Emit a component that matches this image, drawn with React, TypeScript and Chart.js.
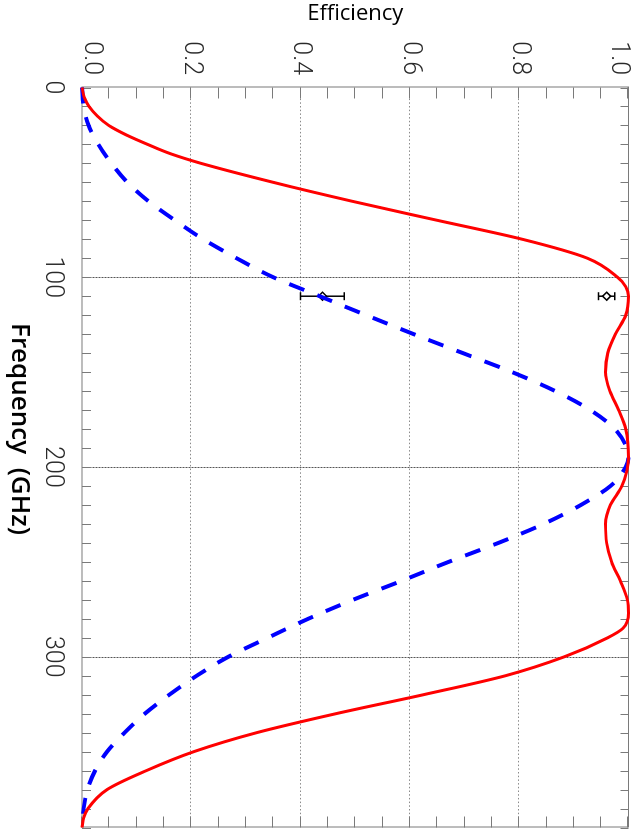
import React, { useEffect, useRef } from "react";
import { Chart, registerables } from "chart.js";

Chart.register(...registerables);

// ---- data ----
const redFreq = [0, 5, 10, 15, 20, 25, 30, 35, 40, 50, 60, 70, 80, 90, 100, 105, 110, 120, 130, 140, 150, 160, 170, 180, 195, 210, 220, 230, 240, 250, 260, 270, 277, 285, 290, 300, 310, 320, 330, 340, 350, 360, 370, 380, 385, 390];
const redEff = [0, 0.004, 0.013, 0.028, 0.049, 0.081, 0.12, 0.163, 0.218, 0.35, 0.495, 0.65, 0.806, 0.925, 0.98, 0.995, 1.0, 0.995, 0.976, 0.962, 0.958, 0.966, 0.982, 0.995, 1.0, 0.988, 0.967, 0.958, 0.96, 0.969, 0.985, 0.998, 1.0, 0.99, 0.962, 0.883, 0.775, 0.625, 0.465, 0.32, 0.205, 0.118, 0.046, 0.011, 0.003, 0];

const blueFreq = [0, 10, 20, 30, 40, 50, 60, 70, 80, 90, 100, 110, 120, 130, 140, 150, 160, 170, 180, 190, 195, 200, 210, 220, 230, 240, 250, 260, 270, 280, 290, 300, 310, 320, 330, 340, 350, 360, 370, 380, 390];
const blueEff = [0, 0.003, 0.012, 0.03, 0.054, 0.083, 0.122, 0.17, 0.222, 0.283, 0.35, 0.435, 0.52, 0.607, 0.697, 0.787, 0.866, 0.93, 0.975, 0.997, 1.0, 0.995, 0.967, 0.913, 0.845, 0.762, 0.671, 0.585, 0.496, 0.414, 0.34, 0.268, 0.21, 0.16, 0.115, 0.078, 0.046, 0.024, 0.01, 0.003, 0];

const measFreq = [110, 110];
const measEff = [0.96, 0.44];
const measErr = [0.015, 0.04];

const freqTickLabels = [0, 100, 200, 300];
const effTickLabels = [0, 0.2, 0.4, 0.6, 0.8, 1.0];
const freqGrid = [100, 200, 300];
const effGrid = [0.2, 0.4, 0.6, 0.8];
const FREQ_MIN = 0;
const FREQ_MAX = 390;
const EFF_MIN = 0;
const EFF_MAX = 1;
const freqMinorStep = 10;
const effMinorStep = 0.05;

const X_TITLE = "Frequency  (GHz)";
const Y_TITLE = "Efficiency";

const W = 833;
const H = 634;

const framePlugin = {
  id: "frame",
  beforeDatasetsDraw(chart: any) {
    const { ctx, chartArea: a, scales } = chart;
    const x = scales.x;
    const y = scales.y;
    ctx.save();
    ctx.lineWidth = 1;
    // efficiency grid (dotted)
    ctx.strokeStyle = "#8a8a8a";
    ctx.setLineDash([1.5, 2.2]);
    for (const v of effGrid) {
      const py = Math.round(y.getPixelForValue(v)) + 0.5;
      ctx.beginPath();
      ctx.moveTo(a.left, py);
      ctx.lineTo(a.right, py);
      ctx.stroke();
    }
    // frequency grid (fine dashes)
    ctx.strokeStyle = "#555555";
    ctx.setLineDash([2, 1]);
    for (const v of freqGrid) {
      const px = Math.round(x.getPixelForValue(v)) + 0.5;
      ctx.beginPath();
      ctx.moveTo(px, a.top);
      ctx.lineTo(px, a.bottom);
      ctx.stroke();
    }
    ctx.setLineDash([]);
    // inward ticks
    ctx.strokeStyle = "#7a7a7a";
    for (let f = FREQ_MIN; f <= FREQ_MAX + 1e-6; f += freqMinorStep) {
      const px = Math.round(x.getPixelForValue(f)) + 0.5;
      ctx.beginPath();
      ctx.moveTo(px, a.bottom);
      ctx.lineTo(px, a.bottom - 9);
      ctx.moveTo(px, a.top);
      ctx.lineTo(px, a.top + 8);
      ctx.stroke();
    }
    const n = Math.round((EFF_MAX - EFF_MIN) / effMinorStep);
    for (let i = 0; i <= n; i++) {
      const py = Math.round(y.getPixelForValue(EFF_MIN + i * effMinorStep)) + 0.5;
      ctx.beginPath();
      ctx.moveTo(a.left, py);
      ctx.lineTo(a.left + 11, py);
      ctx.moveTo(a.right, py);
      ctx.lineTo(a.right - 11, py);
      ctx.stroke();
    }
    // frame
    ctx.strokeStyle = "#7a7a7a";
    ctx.strokeRect(a.left - 0.5, a.top, a.right - a.left, a.bottom - a.top);
    ctx.restore();
  },
  beforeDatasetDraw(chart: any, args: any) {
    if (args.index !== 2) return;
    const { ctx, scales } = chart;
    const x = scales.x;
    const y = scales.y;
    ctx.save();
    ctx.strokeStyle = "#000";
    ctx.lineWidth = 1.5;
    measFreq.forEach((f, i) => {
      const px = x.getPixelForValue(f);
      const lo = y.getPixelForValue(measEff[i] - measErr[i]);
      const hi = y.getPixelForValue(measEff[i] + measErr[i]);
      ctx.beginPath();
      ctx.moveTo(px, lo);
      ctx.lineTo(px, hi);
      ctx.moveTo(px - 4, lo);
      ctx.lineTo(px + 4, lo);
      ctx.moveTo(px - 4, hi);
      ctx.lineTo(px + 4, hi);
      ctx.stroke();
    });
    ctx.restore();
  },
  afterDraw(chart: any) {
    const { ctx, chartArea: a, scales } = chart;
    const x = scales.x;
    const y = scales.y;
    ctx.save();
    ctx.fillStyle = "#2a2a2a";
    ctx.font = "300 25px Roboto, 'Liberation Sans', sans-serif";
    ctx.textAlign = "center";
    ctx.textBaseline = "middle";
    for (const v of freqTickLabels) {
      ctx.fillText(String(v), x.getPixelForValue(v), a.bottom + 30);
    }
    ctx.textAlign = "right";
    for (const v of effTickLabels) {
      let py = y.getPixelForValue(v);
      if (v === EFF_MIN) py -= 9;
      if (v === EFF_MAX) py += 10;
      ctx.fillText(v.toFixed(1), a.left - 12.5, py);
    }
    // titles
    ctx.fillStyle = "#000";
    ctx.textBaseline = "alphabetic";
    ctx.textAlign = "center";
    ctx.font = "600 26px 'Open Sans', sans-serif";
    ctx.fillText(X_TITLE, 429, 622);
    ctx.save();
    ctx.translate(20, (a.top + a.bottom) / 2);
    ctx.rotate(-Math.PI / 2);
    ctx.font = "400 22px 'Open Sans', sans-serif";
    ctx.fillText(Y_TITLE, 0, 0);
    ctx.restore();
    ctx.restore();
  },
};

export default function App() {
  const ref = useRef<HTMLCanvasElement | null>(null);
  useEffect(() => {
    if (!ref.current) return;
    const chart = new Chart(ref.current, {
      type: "line",
      data: {
        datasets: [
          {
            data: redFreq.map((f, i) => ({ x: f, y: redEff[i] })),
            borderColor: "#ff0000",
            borderWidth: 3,
            pointRadius: 0,
            cubicInterpolationMode: "monotone",
            fill: false,
            clip: false,
          } as any,
          {
            data: blueFreq.map((f, i) => ({ x: f, y: blueEff[i] })),
            borderColor: "#0000ff",
            borderWidth: 4,
            borderDash: [16, 14],
            pointRadius: 0,
            cubicInterpolationMode: "monotone",
            fill: false,
            clip: false,
          } as any,
          {
            type: "scatter",
            data: measFreq.map((f, i) => ({ x: f, y: measEff[i] })),
            pointStyle: "rectRot",
            pointRadius: 4,
            backgroundColor: "#ffffff",
            borderColor: "#000000",
            borderWidth: 1.5,
            showLine: false,
            clip: false,
          } as any,
        ],
      },
      options: {
        responsive: false,
        animation: false,
        devicePixelRatio: 1,
        layout: { padding: { top: 2, right: 1, left: 0, bottom: 0 } },
        plugins: { legend: { display: false }, tooltip: { enabled: false } },
        events: [],
        scales: {
          x: {
            type: "linear",
            min: FREQ_MIN,
            max: FREQ_MAX,
            grid: { display: false, drawTicks: false },
            border: { display: false },
            ticks: { display: false },
            afterFit: (s: any) => {
              s.height = 82;
            },
          },
          y: {
            type: "linear",
            min: EFF_MIN,
            max: EFF_MAX,
            grid: { display: false, drawTicks: false },
            border: { display: false },
            ticks: { display: false },
            afterFit: (s: any) => {
              s.width = 87.5;
            },
          },
        },
      } as any,
      plugins: [framePlugin],
    });
    return () => chart.destroy();
  }, []);

  return (
    <div
      style={{
        position: "absolute",
        left: 0,
        top: 0,
        width: W,
        height: H,
        transformOrigin: "0 0",
        transform: `translate(${H}px, 0px) rotate(90deg)`,
      }}
    >
      <canvas ref={ref} width={W} height={H} style={{ width: W, height: H, display: "block" }} />
    </div>
  );
}
